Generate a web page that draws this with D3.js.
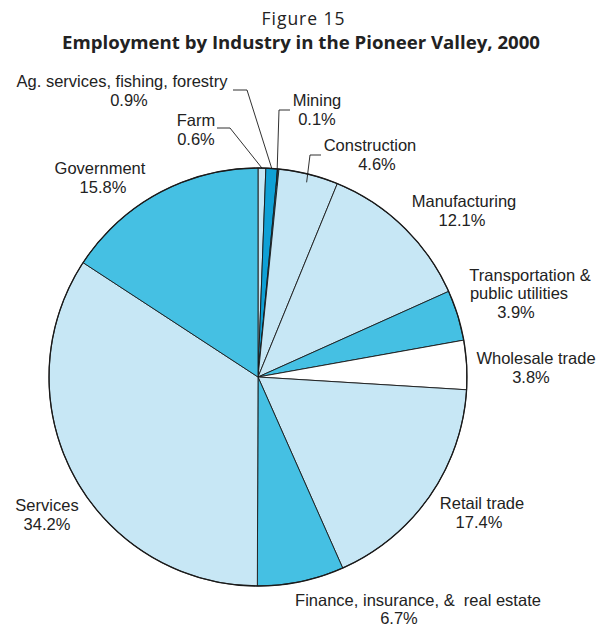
<!DOCTYPE html>
<html><head><meta charset="utf-8">
<script src="https://cdn.jsdelivr.net/npm/d3@7"></script>
<style>body{margin:0;background:#fff}svg{display:block}text{white-space:pre}</style>
</head><body>
<script>
const categories = ["Farm","Ag. services, fishing, forestry","Mining","Construction","Manufacturing","Transportation & public utilities","Wholesale trade","Retail trade","Finance, insurance, & real estate","Services","Government"];
const values = [0.6,0.9,0.1,4.6,12.1,3.9,3.8,17.4,6.7,34.2,15.8];
const valueLabels = ["0.6%","0.9%","0.1%","4.6%","12.1%","3.9%","3.8%","17.4%","6.7%","34.2%","15.8%"];
const fills = ["#c7e7f5","#0fa0d5","#0fa0d5","#c7e7f5","#c7e7f5","#45c0e3","#ffffff","#c7e7f5","#45c0e3","#c7e7f5","#45c0e3"];

// label layout: lines of text with anchor centre x and baseline y
const labelLayout = [
  {lines:[["Farm",196,126],["0.6%",196,145]], leader:{elbow:[[217,128],[230,128]], r:1.0}},
  {lines:[["Ag. services, fishing, forestry",122,87],["0.9%",129,106]], leader:{elbow:[[233,90],[247,90]], r:1.0}},
  {lines:[["Mining",317,106],["0.1%",317,125]], leader:{elbow:[[290,110],[279,110]], r:0.92}},
  {lines:[["Construction",370,151],["4.6%",377,170]], leader:{elbow:[[321,155],[310,155]], r:0.96}},
  {lines:[["Manufacturing",464,207],["12.1%",462,226]]},
  {lines:[["Transportation &",530,281],["public utilities",519,299],["3.9%",516,318]]},
  {lines:[["Wholesale trade",536,364],["3.8%",531,383]]},
  {lines:[["Retail trade",482,509],["17.4%",479,528]]},
  {lines:[["Finance, insurance, &  real estate",418,606],["6.7%",399,624]]},
  {lines:[["Services",47,511],["34.2%",47,530]]},
  {lines:[["Government",100,174],["15.8%",103,193]]}
];

const W = 602, H = 627;
const cx = 258, cy = 377, R = 209;
const svg = d3.select("body").append("svg").attr("width", W).attr("height", H);

svg.append("text").attr("x", 303).attr("y", 25).attr("text-anchor","middle")
  .style("font-family","'Open Sans', Lato, sans-serif").style("font-size","17.5px").attr("fill","#222")
  .attr("textLength", 83).attr("lengthAdjust","spacing")
  .text("Figure 15");
svg.append("text").attr("x", 301).attr("y", 49).attr("text-anchor","middle")
  .style("font-family","'Open Sans', Lato, sans-serif").style("font-size","17.5px").style("font-weight","bold").attr("fill","#222")
  .attr("textLength", 478).attr("lengthAdjust","spacingAndGlyphs")
  .text("Employment by Industry in the Pioneer Valley, 2000");

const data = categories.map((c,i)=>({cat:c, value:values[i], fill:fills[i], label:valueLabels[i], layout:labelLayout[i]}));
const pie = d3.pie().value(d=>d.value).sort(null).startAngle(0).endAngle(2*Math.PI);
const arcs = pie(data);
const arc = d3.arc().innerRadius(0).outerRadius(R);

const g = svg.append("g").attr("transform",`translate(${cx},${cy})`);
g.selectAll("path").data(arcs).join("path")
  .attr("d", arc)
  .attr("fill", d=>d.data.fill)
  .attr("stroke", "#1a1a1a")
  .attr("stroke-width", 0.9)
  .attr("stroke-linejoin","round");
g.append("circle").attr("r",R).attr("fill","none").attr("stroke","#1a1a1a").attr("stroke-width",1.3);

// leaders
arcs.forEach(a=>{
  const L = a.data.layout.leader;
  if(!L) return;
  const ang = (a.startAngle + a.endAngle)/2;
  const rr = R * L.r;
  const px = cx + rr*Math.sin(ang), py = cy - rr*Math.cos(ang);
  const pts = L.elbow.concat([[px,py]]);
  svg.append("path").attr("d", d3.line()(pts)).attr("fill","none").attr("stroke","#1a1a1a").attr("stroke-width",0.9);
});

// labels
arcs.forEach(a=>{
  a.data.layout.lines.forEach(([t,x,y])=>{
    svg.append("text").attr("x",x).attr("y",y).attr("text-anchor","middle")
      .style("font-family","'Liberation Sans', Arimo, Arial, sans-serif").style("font-size","16.5px").attr("fill","#222")
      .text(t);
  });
});
</script>
</body></html>
